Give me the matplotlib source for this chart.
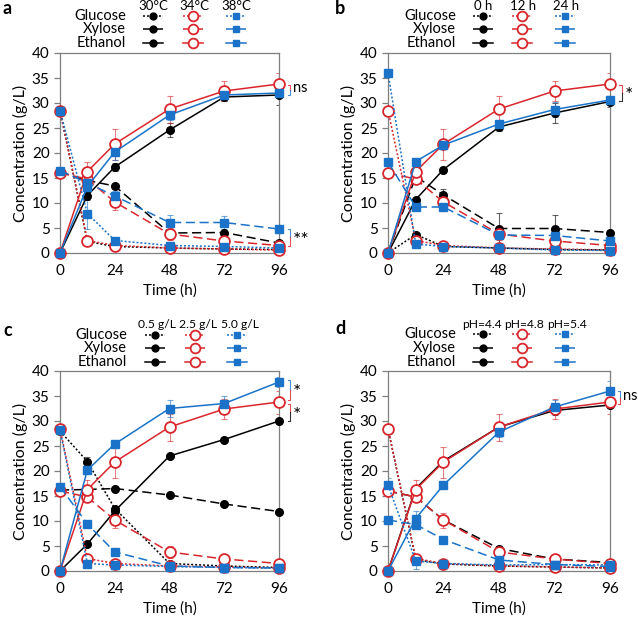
import numpy as np
import matplotlib
matplotlib.use("Agg")
import matplotlib.pyplot as plt
from matplotlib.lines import Line2D

plt.rcParams['font.family'] = ['Lato', 'DejaVu Sans']

W, H = 638, 620
t = [0, 12, 24, 48, 72, 96]

# colours
c_k = '#000000'
c_r = '#d9262c'
c_b = '#1a73c8'

# red series is the same reference condition in every panel
red_glc = [28.5, 2.5, 1.5, 1.0, 0.8, 0.6]
red_xyl = [16.0, 14.8, 10.2, 3.8, 2.4, 1.5]
red_eth = [0, 16.3, 21.8, 28.8, 32.4, 33.8]
red_eth_err = [0, 2.0, 3.1, 2.7, 2.0, 2.3]
red_xyl_err = [0, 0.6, 1.5, 1.2, 0.5, 0.3]

# panel a: temperature
a_glc_k = [28.5, 2.3, 1.3, 1.0, 0.8, 0.7]
a_xyl_k = [16.2, 14.5, 13.4, 4.0, 4.1, 2.0]
a_eth_k = [0, 11.5, 17.2, 24.6, 31.2, 31.6]
a_glc_b = [28.5, 7.9, 2.5, 1.5, 1.3, 1.0]
a_xyl_b = [16.5, 14.0, 11.4, 6.1, 6.1, 4.8]
a_eth_b = [0, 13.3, 20.2, 27.6, 31.6, 32.0]
a_eth_k_err = [0, 0.8, 0.8, 1.4, 0.8, 2.0]
a_eth_b_err = [0, 1.0, 1.5, 1.0, 1.0, 1.0]
a_glc_b_err = [0, 3.0, 0.5, 0.3, 0.3, 0.2]
a_xyl_b_err = [0, 1.0, 1.0, 1.5, 1.3, 0.5]

# panel b: prehydrolysis time
b_glc_k = [0, 3.7, 1.3, 1.0, 0.7, 0.6]
b_xyl_k = [0, 15.3, 11.6, 4.9, 4.9, 4.1]
b_eth_k = [0, 10.7, 16.7, 25.2, 28.0, 30.3]
b_glc_b = [36.0, 1.8, 1.3, 1.0, 0.6, 0.5]
b_xyl_b = [18.2, 9.2, 9.2, 3.6, 3.5, 2.4]
b_eth_b = [0, 18.3, 21.6, 25.8, 28.7, 30.6]
b_eth_k_err = [0, 0.5, 0.6, 0.8, 2.0, 1.0]
b_xyl_k_err = [0, 0.5, 1.2, 3.1, 2.8, 0.5]
b_eth_b_err = [0, 0.5, 0.8, 0.8, 1.5, 0.8]

# panel c: enzyme loading
c_glc_k = [28.0, 21.9, 12.5, 1.5, 1.0, 0.7]
c_xyl_k = [16.2, 16.3, 16.5, 15.2, 13.4, 11.9]
c_eth_k = [0, 5.4, 12.0, 23.0, 26.3, 30.0]
c_glc_b = [28.2, 1.5, 1.2, 0.9, 0.7, 0.6]
c_xyl_b = [16.9, 9.4, 3.8, 1.0, 0.7, 0.6]
c_eth_b = [0, 20.2, 25.4, 32.5, 33.5, 37.8]
c_glc_k_err = [0, 1.0, 0.5, 0.3, 0.2, 0.2]
c_eth_b_err = [0, 0.5, 0.5, 1.7, 1.5, 1.0]

# panel d: pH
d_glc_k = [28.5, 2.3, 1.4, 1.0, 0.8, 0.6]
d_xyl_k = [16.0, 14.8, 10.2, 4.5, 2.4, 1.7]
d_eth_k = [0, 16.5, 22.0, 28.8, 32.1, 33.2]
d_glc_b = [17.2, 2.0, 1.5, 1.2, 1.3, 1.2]
d_xyl_b = [10.2, 9.3, 6.3, 2.2, 1.3, 0.9]
d_eth_b = [0, 10.5, 17.2, 27.8, 32.8, 36.0]
d_glc_b_err = [1.5, 1.5, 0.3, 0.3, 0.3, 0.3]
d_eth_b_err = [0, 1.5, 0.5, 1.0, 1.5, 2.0]

headers = {
    'a': ['30°C', '34°C', '38°C'],
    'b': ['0 h', '12 h', '24 h'],
    'c': ['0.5 g/L', '2.5 g/L', '5.0 g/L'],
    'd': ['pH=4.4', 'pH=4.8', 'pH=5.4'],
}
species = ['Glucose', 'Xylose', 'Ethanol']

ls_glc = (0, (1.3, 1.3))
ls_xyl = (0, (6, 3))
ls_eth = '-'
styles = [ls_glc, ls_xyl, ls_eth]


def fx(px):
    return px / W


def fy(py):
    return 1 - py / H


def mk(color, scale=1.0):
    # marker style for each colour
    if color == c_k:
        return dict(marker='o', ms=5.5 * scale, mfc=c_k, mec=c_k)
    if color == c_r:
        return dict(marker='o', ms=7.8 * scale, mfc='white', mec=c_r, mew=1.3)
    return dict(marker='s', ms=5.3 * scale, mfc=c_b, mec=c_b)


def series(ax, y, color, ls, err=None):
    if err is not None:
        ax.errorbar(t, y, yerr=err, fmt='none', ecolor=color, alpha=0.6,
                    elinewidth=0.8, capsize=2, capthick=0.8, zorder=2)
    ax.plot(t, y, color=color, ls=ls, lw=1.1, zorder=3, clip_on=False, **mk(color))


def bracket(ax, x, y_top, y_bot, col_top, col_bot, label):
    ym = (y_top + y_bot) / 2
    ax.plot([x - 1, x, x], [y_top, y_top, ym], color=col_top, lw=0.8, clip_on=False, alpha=0.8)
    ax.plot([x, x, x - 1], [ym, y_bot, y_bot], color=col_bot, lw=0.8, clip_on=False, alpha=0.8)
    if label == 'ns':
        ax.text(x + 1.2, ym + 0.3, label, fontsize=10.5, va='center', ha='left')
    else:
        ax.text(x + 1.2, ym - 0.6, label, fontsize=14, va='center', ha='left')


def legend(fig, cols_px, head_px, row_px, head_py, label_right, names, head_size):
    for j, (cx, col) in enumerate(zip(cols_px, [c_k, c_r, c_b])):
        fig.text(fx(head_px[j]), fy(head_py), names[j], ha='center', va='center',
                 fontsize=head_size)
        for i, ry in enumerate(row_px):
            ls = styles[i]
            fig.add_artist(Line2D([fx(cx - 10), fx(cx + 10)], [fy(ry), fy(ry)],
                                  transform=fig.transFigure, color=col, ls=ls, lw=1.1))
            fig.add_artist(Line2D([fx(cx)], [fy(ry)], transform=fig.transFigure,
                                  ls='none', color=col, **mk(col, 0.9)))
    for i, ry in enumerate(row_px):
        fig.text(fx(label_right), fy(ry), species[i], ha='right', va='center', fontsize=10.5)


fig = plt.figure(figsize=(W / 100, H / 100), dpi=100)

boxes = {
    'a': (60, 53, 279, 253),
    'b': (388, 53, 610, 253),
    'c': (60, 371, 279, 571),
    'd': (388, 371, 610, 571),
}

data = {
    'a': [(a_glc_k, a_xyl_k, a_eth_k, None, None, a_eth_k_err),
          (red_glc, red_xyl, red_eth, None, red_xyl_err, red_eth_err),
          (a_glc_b, a_xyl_b, a_eth_b, a_glc_b_err, a_xyl_b_err, a_eth_b_err)],
    'b': [(b_glc_k, b_xyl_k, b_eth_k, None, b_xyl_k_err, b_eth_k_err),
          (red_glc, red_xyl, red_eth, None, red_xyl_err, red_eth_err),
          (b_glc_b, b_xyl_b, b_eth_b, None, None, b_eth_b_err)],
    'c': [(c_glc_k, c_xyl_k, c_eth_k, c_glc_k_err, None, None),
          (red_glc, red_xyl, red_eth, None, red_xyl_err, red_eth_err),
          (c_glc_b, c_xyl_b, c_eth_b, None, None, c_eth_b_err)],
    'd': [(d_glc_k, d_xyl_k, d_eth_k, None, None, None),
          (red_glc, red_xyl, red_eth, None, red_xyl_err, red_eth_err),
          (d_glc_b, d_xyl_b, d_eth_b, d_glc_b_err, None, d_eth_b_err)],
}

axes = {}
for key, (x0, y0, x1, y1) in boxes.items():
    ax = fig.add_axes([fx(x0), fy(y1), (x1 - x0) / W, (y1 - y0) / H])
    axes[key] = ax
    for col, (g, x, e, ge, xe, ee) in zip([c_k, c_r, c_b], data[key]):
        series(ax, g, col, ls_glc, ge)
        series(ax, x, col, ls_xyl, xe)
        series(ax, e, col, ls_eth, ee)
    ax.set_xlim(0, 96)
    ax.set_ylim(0, 40)
    ax.set_xticks([0, 24, 48, 72, 96])
    ax.set_yticks(range(0, 41, 5))
    for s in ax.spines.values():
        s.set_color('#7f7f7f')
        s.set_linewidth(0.9)
    ax.tick_params(axis='both', labelsize=11, color='#7f7f7f', length=4, width=0.9)
    ax.tick_params(axis='x', length=0, pad=8)
    ax.set_xlabel('Time (h)', fontsize=11, labelpad=4)
    ax.set_ylabel('Concentration (g/L)', fontsize=11.5, labelpad=3)

# significance brackets
bracket(axes['a'], 101, 33.7, 31.6, c_r, c_b, 'ns')
bracket(axes['a'], 101, 4.8, 1.5, c_b, c_r, '**')
bracket(axes['b'], 101, 33.7, 30.4, c_r, c_k, '*')
bracket(axes['c'], 101, 38.3, 34.3, c_b, c_r, '*')
bracket(axes['c'], 101, 33.5, 30.0, c_r, c_k, '*')
bracket(axes['d'], 100.5, 36.0, 33.4, c_b, c_r, 'ns')

# legends above each panel
legend(fig, [153, 193, 236], [153, 194, 236], [16, 29, 43], 6, 126, headers['a'], 9.5)
legend(fig, [483, 522, 565], [483, 523, 566], [16, 29, 43], 6, 456, headers['b'], 9.5)
legend(fig, [155, 195, 237], [157, 198, 240], [335, 348, 362], 325, 127, headers['c'], 8.7)
legend(fig, [483, 522, 565], [482, 524, 567], [334, 348, 362], 325, 456, headers['d'], 8.7)

# panel letters
for lab, (px, py) in {'a': (7, 9), 'b': (340, 9), 'c': (8, 330), 'd': (340, 329)}.items():
    fig.text(fx(px), fy(py), lab, fontsize=13, fontweight='bold', ha='center', va='center')

fig.savefig('out.png', dpi=100)
